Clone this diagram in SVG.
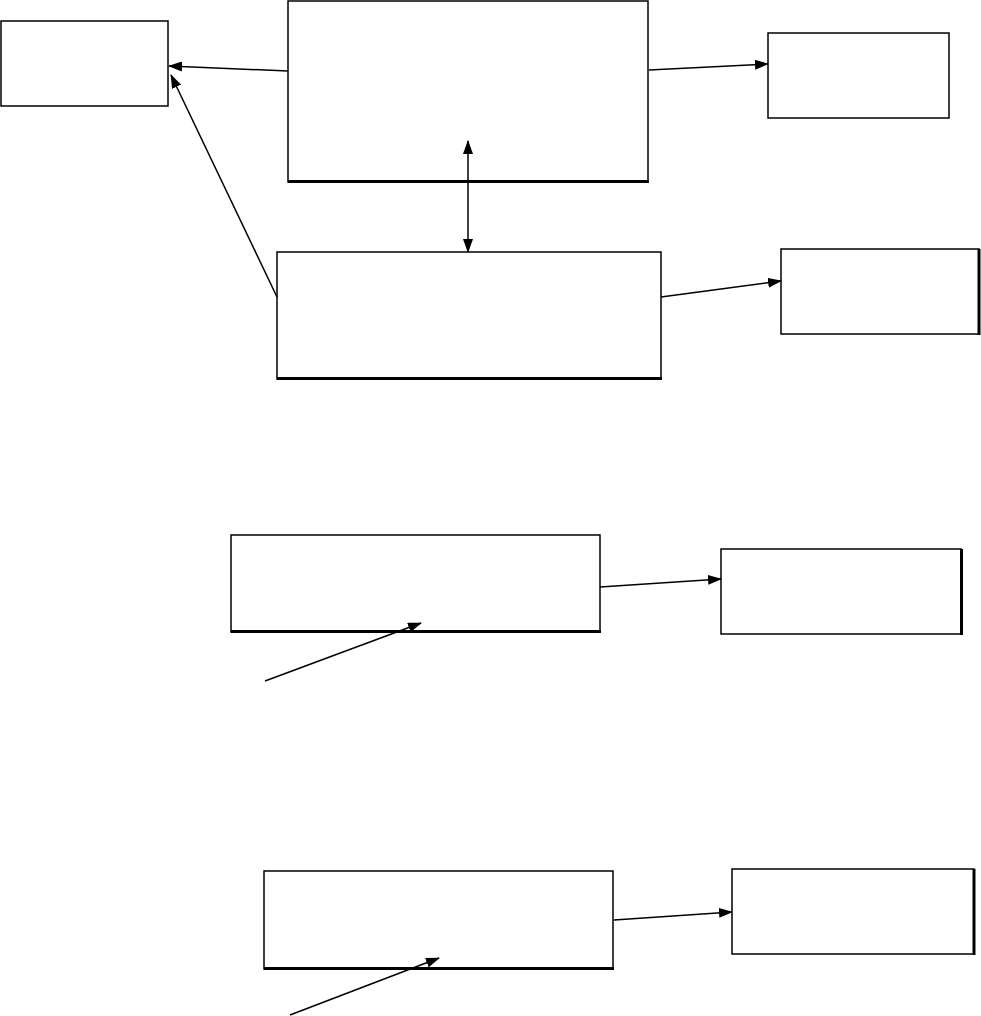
<svg xmlns="http://www.w3.org/2000/svg" width="981" height="1016" viewBox="0 0 981 1016">
<style>
.box{fill:#fff;stroke:#000;stroke-width:1.5}
.edge{stroke:#000;stroke-width:3;fill:none}
.con{stroke:#000;stroke-width:1.5;fill:none}
</style>
<defs>
<marker id="ah" markerUnits="userSpaceOnUse" markerWidth="14" markerHeight="10" refX="13" refY="5" orient="auto-start-reverse" viewBox="0 0 14 10">
<path d="M0,0 L14,5 L0,10 Z" fill="#000"/>
</marker>
</defs>
<rect width="981" height="1016" fill="#fff"/>
<g id="nodeA"><rect class="box" x="1" y="21" width="167" height="85"/></g>
<g id="nodeB"><rect class="box" x="288" y="1" width="360" height="181"/><line class="edge" x1="288" y1="181.5" x2="649" y2="181.5"/></g>
<g id="nodeC"><rect class="box" x="277" y="252" width="384" height="127"/><line class="edge" x1="277" y1="378.5" x2="662" y2="378.5"/></g>
<g id="nodeD"><rect class="box" x="768" y="33" width="181" height="85"/></g>
<g id="nodeE"><rect class="box" x="781" y="249" width="198" height="85"/><line class="edge" x1="979" y1="249" x2="979" y2="335"/></g>
<g id="nodeF"><rect class="box" x="231" y="535" width="369" height="97"/><line class="edge" x1="231" y1="631.5" x2="601" y2="631.5"/></g>
<g id="nodeG"><rect class="box" x="721" y="549" width="240" height="85"/><line class="edge" x1="961.5" y1="549" x2="961.5" y2="635"/></g>
<g id="nodeH"><rect class="box" x="264" y="871" width="349" height="98"/><line class="edge" x1="264" y1="968.5" x2="614" y2="968.5"/></g>
<g id="nodeI"><rect class="box" x="732" y="869" width="242" height="85"/><line class="edge" x1="974" y1="869" x2="974" y2="955"/></g>
<g id="connectors">
<line class="con" x1="288" y1="71" x2="169" y2="66" marker-end="url(#ah)"/>
<line class="con" x1="277" y1="297" x2="171" y2="75" marker-end="url(#ah)"/>
<line class="con" x1="468" y1="141" x2="468" y2="252" marker-start="url(#ah)" marker-end="url(#ah)"/>
<line class="con" x1="649" y1="70" x2="768" y2="64" marker-end="url(#ah)"/>
<line class="con" x1="661" y1="297" x2="781" y2="281" marker-end="url(#ah)"/>
<line class="con" x1="600" y1="587" x2="721" y2="579" marker-end="url(#ah)"/>
<line class="con" x1="265" y1="681" x2="421" y2="623" marker-end="url(#ah)"/>
<line class="con" x1="614" y1="920" x2="732" y2="912" marker-end="url(#ah)"/>
<line class="con" x1="290" y1="1015" x2="439" y2="958" marker-end="url(#ah)"/>
</g>
</svg>
